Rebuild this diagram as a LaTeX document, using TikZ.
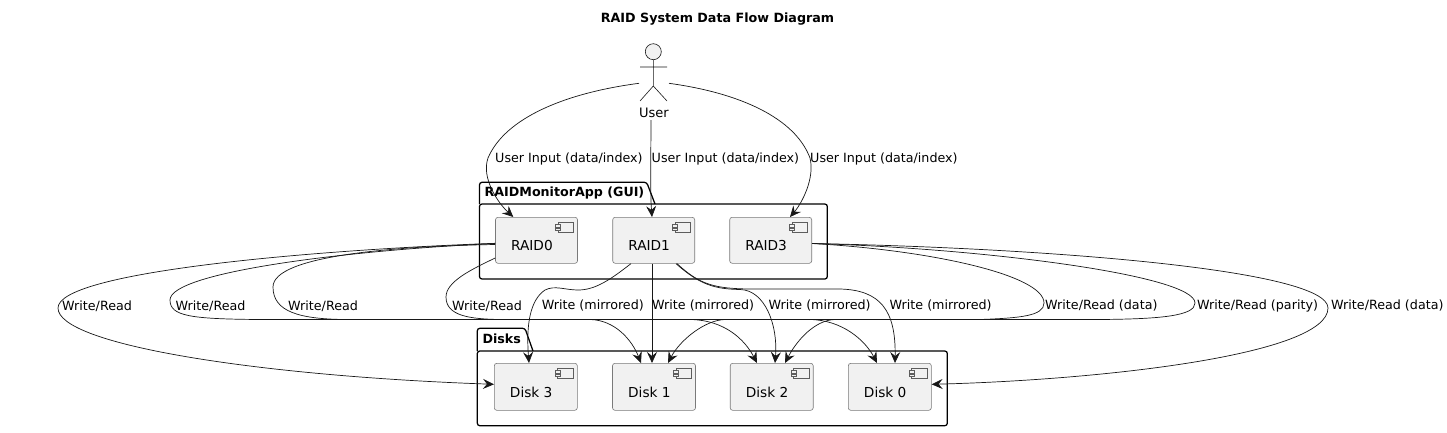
\documentclass[tikz,border=0pt]{standalone}
\usepackage{fontspec}
\setmainfont{DejaVu Sans}
\usetikzlibrary{arrows.meta,calc}
\definecolor{ink}{HTML}{181818}
\definecolor{boxfill}{HTML}{F1F1F1}
\definecolor{boxline}{HTML}{7A7A7A}
\tikzset{
  flow/.style={draw=ink,line width=0.7pt,-{Stealth[length=11pt,width=10pt,inset=4pt]}},
  lbl/.style={anchor=west,inner sep=0pt,yshift=-1pt,font=\fontsize{12.7}{15}\selectfont,text=black},
  pkgline/.style={draw=black,line width=1.25pt,rounded corners=2.5pt},
  pkgtitle/.style={anchor=west,inner sep=0pt,font=\bfseries\fontsize{12.65}{16}\selectfont},
  comp/.style={draw=boxline,fill=boxfill,line width=0.6pt,rounded corners=2.5pt,minimum width=82pt,minimum height=46pt,inner sep=0pt,
    label={[xshift=-4.6pt,yshift=-5.2pt,inner sep=0pt,font=\fontsize{13.7}{17}\selectfont]center:#1}},
  diskc/.style={comp={#1},minimum width=83pt,minimum height=47pt},
  icon/.style={draw=ink!70,line width=0.5pt,fill=boxfill}
}
\newcommand{\compicon}[1]{
  \draw[icon] ([xshift=-20pt,yshift=-5.4pt]#1.north east) rectangle +(15.4,9.6);
  \draw[icon] ([xshift=-22.3pt,yshift=-7.2pt]#1.north east) rectangle +(4.8,2.6);
  \draw[icon] ([xshift=-22.3pt,yshift=-10.8pt]#1.north east) rectangle +(4.8,2.6);
}
\begin{document}
\begin{tikzpicture}[x=1pt,y=-1pt]
\useasboundingbox[fill=white] (0,0) rectangle (1447,432);
\node[inner sep=0pt,font=\bfseries\fontsize{12.7}{16}\selectfont] (title) at (717.5,19.5) {RAID System Data Flow Diagram};

% packages
\draw[pkgline] (479.5,204) |- (646.7,182.3) -- (655,204);
\draw[pkgline] (479.5,204) rectangle (827.3,279);
\node[pkgtitle] (apppkg) at (484.5,193) {RAIDMonitorApp (GUI)};
\draw[pkgline] (477.3,351) |- (525,328.3) -- (533,351);
\draw[pkgline] (477.3,351) rectangle (947.3,425.7);
\node[pkgtitle] (diskpkg) at (482.3,339) {Disks};

% actor
\draw[draw=ink,line width=0.6pt,fill=boxfill] (653.3,51.7) circle (8);
\draw[draw=ink,line width=0.6pt] (653.3,59.7) -- (653.3,86) (640,67) -- (667,67) (640,101) -- (653.3,86) -- (667,101);
\node[inner sep=0pt,font=\fontsize{13}{17}\selectfont] (user) at (654,112.5) {User};

% components
\node[comp=RAID0] (raid0) at (536.5,240.3) {};
\node[comp=RAID1] (raid1) at (653.7,240.3) {};
\node[comp=RAID3] (raid3) at (770.7,240.3) {};
\node[diskc=Disk 3] (disk3) at (535.8,386.8) {};
\node[diskc=Disk 1] (disk1) at (654,386.8) {};
\node[diskc=Disk 2] (disk2) at (771.7,386.8) {};
\node[diskc=Disk 0] (disk0) at (889.8,386.8) {};
\compicon{raid0}\compicon{raid1}\compicon{raid3}
\compicon{disk3}\compicon{disk1}\compicon{disk2}\compicon{disk0}

% user input
\draw[flow] ([xshift=-15pt,yshift=29.2pt]user.center) .. controls (565,93) and (505,118) .. (488,158) .. controls (481,178) and (498,203) .. ([xshift=-23.2pt]raid0.north);
\draw[flow] ([xshift=-3pt,yshift=-7.5pt]user.center) .. controls (651,150) and (650,190) .. ([xshift=-1.7pt]raid1.north);
\draw[flow] ([xshift=15pt,yshift=29.2pt]user.center) .. controls (740,93) and (795,118) .. (810,158) .. controls (815,178) and (802,203) .. ([xshift=19.3pt]raid3.north);

% RAID0
\draw[flow] ([yshift=-3pt]raid0.west) .. controls (310,250) and (58,272) .. (58,308) .. controls (58,345) and (260,376) .. ([yshift=2.5pt]disk3.west);
\draw[flow] ([yshift=-3.2pt]raid0.west) .. controls (350,250) and (170,272) .. (170,300) .. controls (170,316) and (190,319) .. (260,319.5) -- (810,319.5) .. controls (842,320) and (865,340) .. ([xshift=-12.8pt]disk0.north);
\draw[flow] ([yshift=-4.2pt]raid0.west) .. controls (400,246) and (273,255) .. (273,287) .. controls (273,312) and (300,319) .. (345,319.5) -- (690,319.5) .. controls (725,320) and (745,340) .. ([xshift=-14.7pt]disk2.north);
\draw[flow] ([yshift=-17.7pt]raid0.west) .. controls (470,270) and (446,282) .. (446,297) .. controls (446,316) and (470,319) .. (500,319.5) -- (590,319.5) .. controls (615,320) and (632,340) .. ([xshift=-13pt]disk1.north);

% RAID1
\draw[flow] ([xshift=-22.7pt]raid1.south) .. controls (610,280) and (595,290) .. (578,290) .. controls (565,290) and (555,285) .. (545,290) .. controls (530,300) and (526,325) .. ([xshift=-6.8pt]disk3.north);
\draw[flow] ([xshift=-1.7pt]raid1.south) .. controls (652,300) and (652,330) .. ([xshift=-2pt]disk1.north);
\draw[flow] ([xshift=22.3pt]raid1.south) .. controls (700,285) and (715,289) .. (740,289.5) .. controls (765,290) and (778,325) .. ([xshift=3.3pt]disk2.north);
\draw[flow] ([xshift=23.3pt]raid1.south) .. controls (700,285) and (715,288.5) .. (750,289) -- (840,289) .. controls (880,290) and (896,310) .. ([xshift=5.2pt]disk0.north);

% RAID3
\draw[flow] ([yshift=-3.2pt]raid3.east) .. controls (930,250) and (1044,275) .. (1044,303) .. controls (1044,316) and (1020,318) .. (980,319.5) -- (835,319.5) .. controls (815,320) and (797,340) .. ([xshift=13.3pt]disk2.north);
\draw[flow] ([yshift=-3.2pt]raid3.east) .. controls (980,248) and (1195,275) .. (1195,303) .. controls (1195,316) and (1160,319) .. (1100,319.5) -- (725,319.5) .. controls (705,320) and (680,340) .. ([xshift=14pt]disk1.north);
\draw[flow] ([yshift=-3.2pt]raid3.east) .. controls (1050,248) and (1328,270) .. (1328,308) .. controls (1328,355) and (1100,380) .. ([yshift=2.5pt]disk0.east);

% labels
\node[lbl] (l1) at (495,158) {User Input (data/index)};
\node[lbl] (l2) at (651.5,158) {User Input (data/index)};
\node[lbl] (l3) at (810,158) {User Input (data/index)};
\node[lbl] (l4) at (62,305) {Write/Read};
\node[lbl] (l5) at (175.5,305) {Write/Read};
\node[lbl] (l6) at (288,305) {Write/Read};
\node[lbl] (l7) at (452,305) {Write/Read};
\node[lbl] (l8) at (541.7,305) {Write (mirrored)};
\node[lbl] (l9) at (652,305) {Write (mirrored)};
\node[lbl] (l10) at (768.5,305) {Write (mirrored)};
\node[lbl] (l11) at (889.5,305) {Write (mirrored)};
\node[lbl] (l12) at (1045,305) {Write/Read (data)};
\node[lbl] (l13) at (1197,305) {Write/Read (parity)};
\node[lbl] (l14) at (1331,305) {Write/Read (data)};
\end{tikzpicture}
\end{document}
